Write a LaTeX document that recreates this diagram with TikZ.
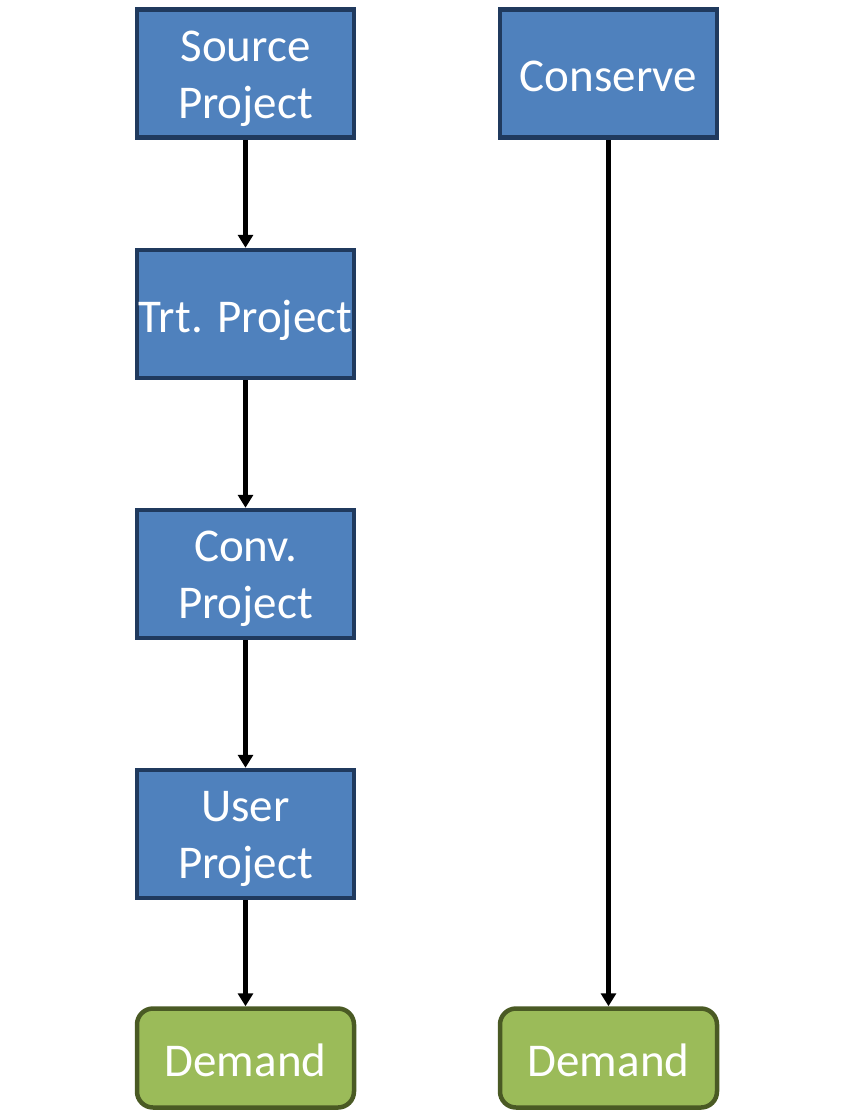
\documentclass[tikz,border=0pt]{standalone}
\usepackage{fontspec}
\setmainfont{Carlito}
\usetikzlibrary{arrows.meta}
\definecolor{boxblue}{HTML}{4F81BD}
\definecolor{boxnavy}{HTML}{203A5E}
\definecolor{boxgreen}{HTML}{9BBB59}
\definecolor{boxolive}{HTML}{4A5A24}
\tikzset{
	project/.style={draw=boxnavy, fill=boxblue, line width=4.5pt, text=white,
		minimum width=217pt, minimum height=128pt, align=center, inner sep=0pt,
		font=\fontsize{47}{57}\selectfont},
	oneline/.style={text height=40pt, text depth=4pt},
	twoline/.style={text height=101pt, text depth=12pt},
	demand/.style={project, oneline, draw=boxolive, fill=boxgreen, rounded corners=16pt,
		minimum height=99pt},
	flow/.style={->, line width=5pt, black}
}
\begin{document}
\begin{tikzpicture}[x=1pt, y=-1pt, >={Triangle[width=15pt,length=13pt]}]
		\useasboundingbox (0,0) rectangle (846,1112);
		
		% linke Kette
		\node[project, twoline] (src) at (245.5,73.5) {Source\\Project};
		\node[project, oneline] (trt) at (245.5,314) {Trt. Project};
		\node[project, twoline] (conv) at (245.5,574) {Conv.\\Project};
		\node[project, twoline] (user) at (245.5,834) {User\\Project};
		\node[demand] (dem1) at (245.5,1058) {Demand};
		
		% rechte Kette
		\node[project, oneline] (cons) at (608.5,73.5) {Conserve};
		\node[demand] (dem2) at (608.5,1058) {Demand};
		
		% Pfeile
		\draw[flow] (src) -- (trt);
		\draw[flow] (trt) -- (conv);
		\draw[flow] (conv) -- (user);
		\draw[flow] (user) -- (dem1);
		\draw[flow] (cons) -- (dem2);
	\end{tikzpicture}
\end{document}
